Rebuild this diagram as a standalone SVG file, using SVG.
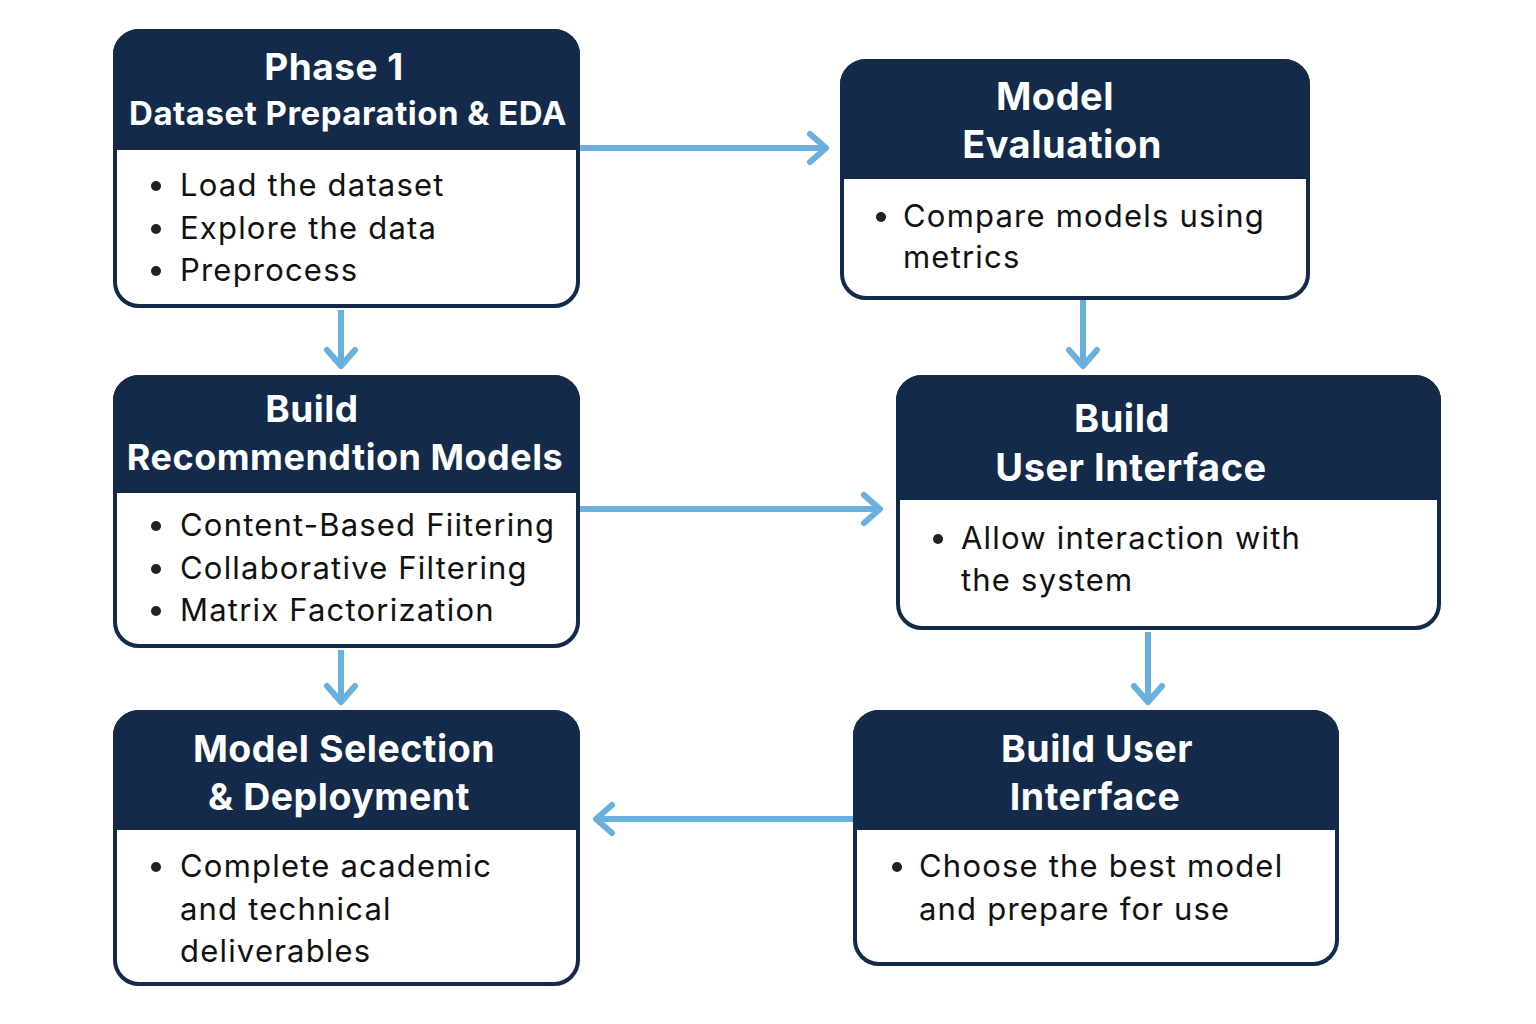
<svg xmlns="http://www.w3.org/2000/svg" width="1536" height="1024" viewBox="0 0 1536 1024">
<defs>
<marker id="arr" viewBox="0 0 22 34" refX="19" refY="17" markerWidth="22" markerHeight="34" markerUnits="userSpaceOnUse" orient="auto" overflow="visible">
<path d="M3,3 L19,17 L3,31" fill="none" stroke="#69b0de" stroke-width="6" stroke-linecap="round" stroke-linejoin="round"/>
</marker>
<style>
.box{fill:#ffffff;stroke:#132a4a;stroke-width:4}
.hdr{fill:#132a4a;stroke:#132a4a;stroke-width:4;stroke-linejoin:round}
.h{font-family:Inter,"Noto Sans","DejaVu Sans",sans-serif;font-weight:700;fill:#ffffff;text-anchor:middle;letter-spacing:0.5px}
.b{font-family:Inter,"Noto Sans","DejaVu Sans",sans-serif;font-size:31px;fill:#111111;letter-spacing:1.2px}
.dot{fill:#222222}
.c{fill:none;stroke:#69b0de;stroke-width:6;marker-end:url(#arr)}
</style>
</defs>
<rect width="1536" height="1024" fill="#ffffff"/>
<g id="connectors">
<line class="c" x1="580" y1="148" x2="826" y2="148"/>
<line class="c" x1="341" y1="310" x2="341" y2="366"/>
<line class="c" x1="1083" y1="300" x2="1083" y2="366"/>
<line class="c" x1="580" y1="509" x2="880" y2="509"/>
<line class="c" x1="341" y1="650" x2="341" y2="702"/>
<line class="c" x1="1148" y1="632" x2="1148" y2="702"/>
<line class="c" x1="853" y1="819" x2="596" y2="819"/>
</g>
<g id="phase1">
<rect class="box" x="115" y="31" width="463" height="275" rx="24"/>
<path class="hdr" d="M115,148 V55 A24,24 0 0 1 139,31 H554 A24,24 0 0 1 578,55 V148 Z"/>
<text class="h" x="334" y="80" font-size="37">Phase 1</text>
<text class="h" x="348" y="125" font-size="33">Dataset Preparation &amp; EDA</text>
<circle class="dot" cx="156" cy="186" r="5"/>
<circle class="dot" cx="156" cy="229" r="5"/>
<circle class="dot" cx="156" cy="271" r="5"/>
<text class="b" x="180" y="196">Load the dataset</text>
<text class="b" x="180" y="239">Explore the data</text>
<text class="b" x="180" y="281">Preprocess</text>
</g>
<g id="model-evaluation">
<rect class="box" x="842" y="61" width="466" height="237" rx="24"/>
<path class="hdr" d="M842,177 V85 A24,24 0 0 1 866,61 H1284 A24,24 0 0 1 1308,85 V177 Z"/>
<text class="h" x="1055" y="110" font-size="38">Model</text>
<text class="h" x="1062" y="158" font-size="38">Evaluation</text>
<circle class="dot" cx="881" cy="217" r="5"/>
<text class="b" x="903" y="227">Compare models using</text>
<text class="b" x="903" y="268">metrics</text>
</g>
<g id="build-models">
<rect class="box" x="115" y="377" width="463" height="269" rx="24"/>
<path class="hdr" d="M115,491 V401 A24,24 0 0 1 139,377 H554 A24,24 0 0 1 578,401 V491 Z"/>
<text class="h" x="312" y="422" font-size="37">Build</text>
<text class="h" x="345" y="470" font-size="36">Recommendtion Models</text>
<circle class="dot" cx="156" cy="526" r="5"/>
<circle class="dot" cx="156" cy="569" r="5"/>
<circle class="dot" cx="156" cy="611" r="5"/>
<text class="b" x="180" y="536">Content-Based Fiitering</text>
<text class="b" x="180" y="579">Collaborative Filtering</text>
<text class="b" x="180" y="621">Matrix Factorization</text>
</g>
<g id="build-ui">
<rect class="box" x="898" y="377" width="541" height="251" rx="24"/>
<path class="hdr" d="M898,498 V401 A24,24 0 0 1 922,377 H1415 A24,24 0 0 1 1439,401 V498 Z"/>
<text class="h" x="1122" y="432" font-size="38">Build</text>
<text class="h" x="1131" y="481" font-size="38">User Interface</text>
<circle class="dot" cx="938" cy="539" r="5"/>
<text class="b" x="961" y="549">Allow interaction with</text>
<text class="b" x="961" y="591">the system</text>
</g>
<g id="model-selection">
<rect class="box" x="115" y="712" width="463" height="272" rx="24"/>
<path class="hdr" d="M115,828 V736 A24,24 0 0 1 139,712 H554 A24,24 0 0 1 578,736 V828 Z"/>
<text class="h" x="344" y="762" font-size="37.5">Model Selection</text>
<text class="h" x="339" y="810" font-size="37.5">&amp; Deployment</text>
<circle class="dot" cx="156" cy="867" r="5"/>
<text class="b" x="180" y="877">Complete academic</text>
<text class="b" x="180" y="920">and technical</text>
<text class="b" x="180" y="962">deliverables</text>
</g>
<g id="build-user-interface">
<rect class="box" x="855" y="712" width="482" height="252" rx="24"/>
<path class="hdr" d="M855,828 V736 A24,24 0 0 1 879,712 H1313 A24,24 0 0 1 1337,736 V828 Z"/>
<text class="h" x="1097" y="762" font-size="37.5">Build User</text>
<text class="h" x="1095" y="810" font-size="37.5">Interface</text>
<circle class="dot" cx="897" cy="867" r="5"/>
<text class="b" x="919" y="877">Choose the best model</text>
<text class="b" x="919" y="920">and prepare for use</text>
</g>
</svg>
